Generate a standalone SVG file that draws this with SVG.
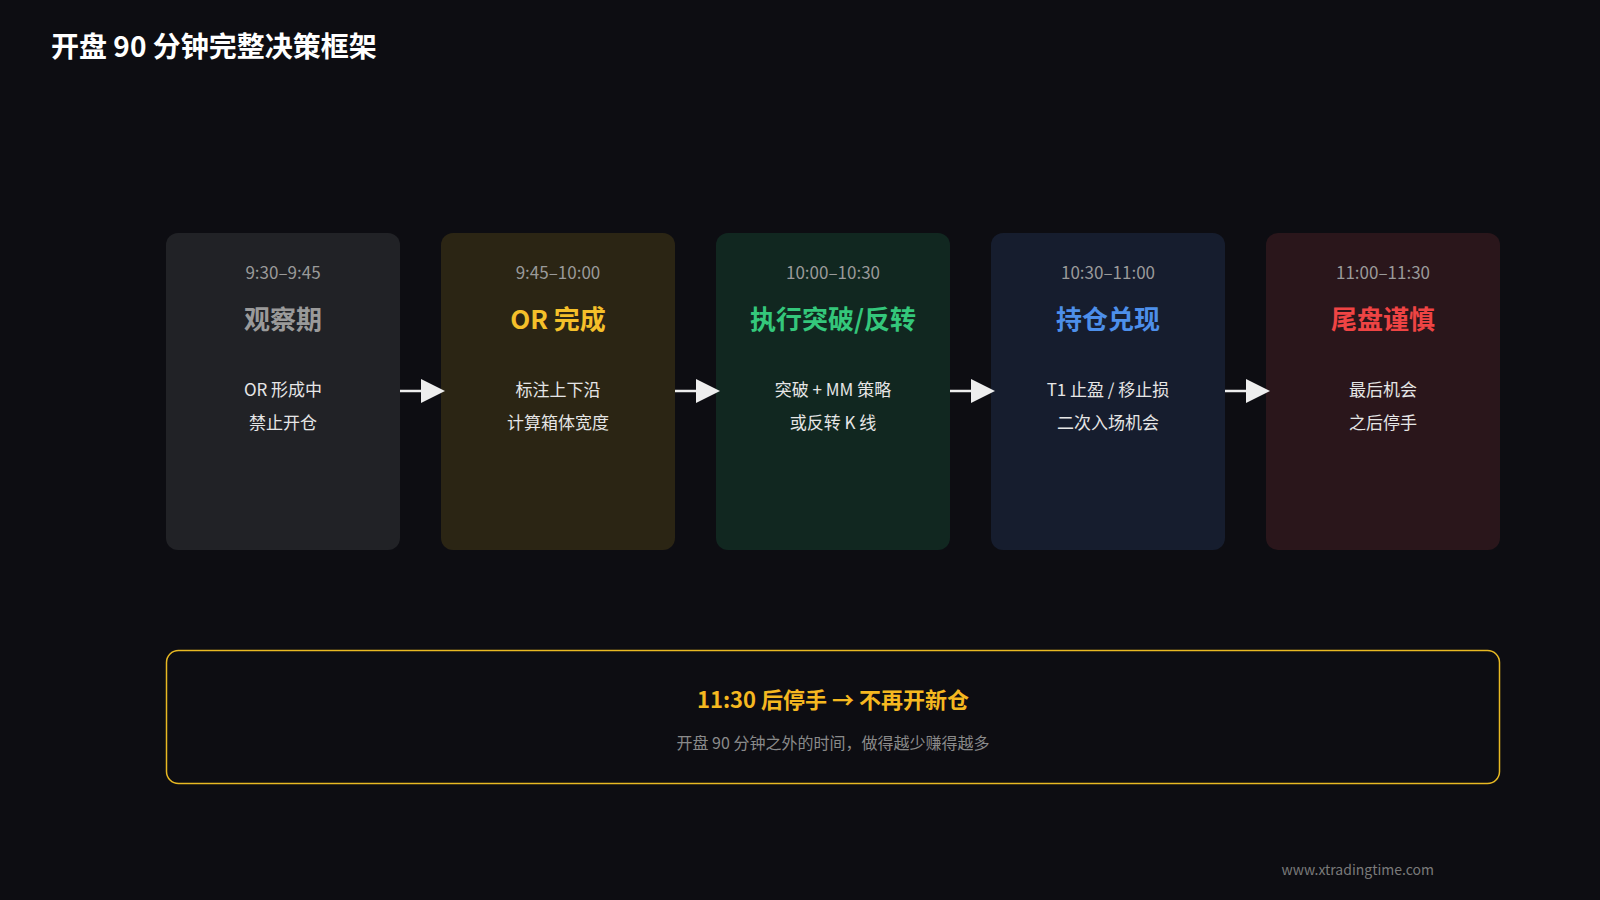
<svg xmlns="http://www.w3.org/2000/svg" width="1600" height="900" viewBox="0 0 1600 900">
<style>
text{font-family:"Noto Sans CJK SC","Noto Sans",sans-serif;text-anchor:middle}
.time{font-size:17px;fill:#9a9a9a}
.ttl{font-size:26px;font-weight:bold}
.body{font-size:17px;fill:#e6e6e6}
.arr{stroke:#eeeeee;stroke-width:2.5}
</style>
<defs><marker id="ah" viewBox="0 0 10 10" refX="0" refY="5" markerWidth="24" markerHeight="24" markerUnits="userSpaceOnUse" orient="auto"><path d="M0,0L10,5L0,10Z" fill="#eeeeee"/></marker></defs>
<rect width="1600" height="900" fill="#0d0d12"/>
<text x="51" y="57" style="text-anchor:start;font-size:28px;font-weight:bold;fill:#ffffff">开盘 90 分钟完整决策框架</text>
<g id="n1"><rect x="166" y="233" width="234" height="317" rx="12" fill="#212226"/>
<text class="time" x="283" y="279">9:30–9:45</text><text class="ttl" x="283" y="329" fill="#9a9a9a">观察期</text>
<text class="body" x="283" y="396">OR 形成中</text><text class="body" x="283" y="429">禁止开仓</text></g>
<g id="n2"><rect x="441" y="233" width="234" height="317" rx="12" fill="#2b2514"/>
<text class="time" x="558" y="279">9:45–10:00</text><text class="ttl" x="558" y="329" fill="#f5c02a">OR 完成</text>
<text class="body" x="558" y="396">标注上下沿</text><text class="body" x="558" y="429">计算箱体宽度</text></g>
<g id="n3"><rect x="716" y="233" width="234" height="317" rx="12" fill="#112720"/>
<text class="time" x="833" y="279">10:00–10:30</text><text class="ttl" x="833" y="329" fill="#34c77b">执行突破/反转</text>
<text class="body" x="833" y="396">突破 + MM 策略</text><text class="body" x="833" y="429">或反转 K 线</text></g>
<g id="n4"><rect x="991" y="233" width="234" height="317" rx="12" fill="#161d2e"/>
<text class="time" x="1108" y="279">10:30–11:00</text><text class="ttl" x="1108" y="329" fill="#4d8fea">持仓兑现</text>
<text class="body" x="1108" y="396">T1 止盈 / 移止损</text><text class="body" x="1108" y="429">二次入场机会</text></g>
<g id="n5"><rect x="1266" y="233" width="234" height="317" rx="12" fill="#2a161b"/>
<text class="time" x="1383" y="279">11:00–11:30</text><text class="ttl" x="1383" y="329" fill="#ef4444">尾盘谨慎</text>
<text class="body" x="1383" y="396">最后机会</text><text class="body" x="1383" y="429">之后停手</text></g>
<g id="connectors">
<line class="arr" x1="400" y1="391" x2="421" y2="391" marker-end="url(#ah)"/>
<line class="arr" x1="675" y1="391" x2="696" y2="391" marker-end="url(#ah)"/>
<line class="arr" x1="950" y1="391" x2="971" y2="391" marker-end="url(#ah)"/>
<line class="arr" x1="1225" y1="391" x2="1246" y2="391" marker-end="url(#ah)"/>
</g>
<g id="note"><rect x="166.5" y="650.5" width="1333" height="133" rx="12" fill="none" stroke="#e8b923" stroke-width="1.5"/>
<text x="833" y="708" style="font-size:22px;font-weight:bold;fill:#f5b820">11:30 后停手 → 不再开新仓</text>
<text x="833" y="749" style="font-size:16px;fill:#8a8a8a">开盘 90 分钟之外的时间，做得越少赚得越多</text></g>
<text x="1434" y="875" style="text-anchor:end;font-size:14px;fill:#7a7a7a">www.xtradingtime.com</text>
</svg>
